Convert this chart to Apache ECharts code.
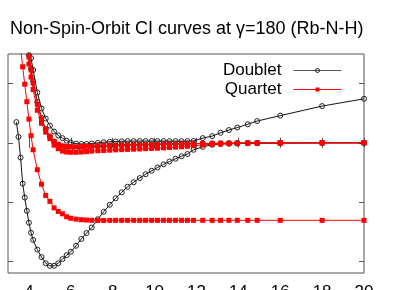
<!DOCTYPE html>
<html>
<head>
<meta charset="utf-8">
<script src="https://cdn.jsdelivr.net/npm/echarts@6/dist/echarts.min.js"></script>
<style>
html,body{margin:0;padding:0;background:#fff;}
#chart{width:395px;height:290px;}
</style>
</head>
<body>
<div id="chart"></div>
<script>
// Common R grid (x)
const xGrid = [3.4,3.5,3.6,3.7,3.8,3.9,4.0,4.1,4.2,4.4,4.6,4.8,5.0,5.2,5.4,5.6,5.8,6.0,6.25,6.5,6.75,7.0,
  7.29,7.57,7.86,8.14,8.43,8.71,9.0,9.29,9.57,9.86,10.14,10.43,10.71,11.0,11.29,11.57,11.86,
  12.3,12.75,13.15,13.55,13.95,14.45,14.9,16,18,20];

// Doublet curves
const doublet1 = [350,100,-250,-690,-925,-1150,-1350,-1520,-1640,-1805,-1930,-2035,-2080,-2078,-2035,-1965,-1900,-1841,-1740,-1625,-1525,-1431,
  -1292,-1166,-1047,-937,-836,-743,-667,-596,-532,-473,-417,-365,-316,-270,-228,-189,-118,
  -68,-34,-22,-17,-12,-8,-5,-3,0,0];
const doublet2 = [null,null,null,null,null,null,1650,1430,1230,850,580,410,290,190,125,78,35,5,-15,-20,-20,-12,
  -2,10,17,22,25,27,28,29,29,29,29,29,28,28,27,28,30,
  79,113,169,215,258,313,367,459,620,743];
const doublet3 = [null,null,null,null,null,1700,1480,1250,1040,690,420,230,105,20,-35,-68,-84,-92,-93,-86,-77,-68,
  -59,-52,-46,-42,-39,-36,-34,-31,-29,-27,-25,-23,-21,-19,-17,-15,-14,
  -12,-10,-8,-7,-6,-5,-4,-3,-1,0];

// Quartet curves
const quartetLow = [null,null,1600,1284,989,694,400,120,-118,-455,-700,-890,-990,-1100,-1160,-1200,-1250,-1275,-1290,-1300,-1305,-1310,
  -1312,-1312,-1311,-1310,-1310,-1310,-1310,-1310,-1310,-1310,-1310,-1310,-1310,-1310,-1310,-1310,-1310,
  -1310,-1310,-1310,-1310,-1310,-1310,-1310,-1310,-1310,-1310];
const quartetUp1 = [null,null,null,null,null,1600,1330,1110,900,550,330,180,70,-40,-100,-140,-155,-160,-160,-156,-150,-140,
  -135,-130,-125,-120,-116,-112,-108,-104,-100,-96,-92,-86,-80,-74,-68,-60,-50,
  -35,-25,-18,-12,-8,-5,-3,-1,0,0];
const quartetUp2 = [null,null,null,null,null,1700,1450,1230,1010,650,400,230,110,25,-25,-52,-64,-68,-68,-64,-60,-56,
  -52,-48,-45,-42,-40,-38,-36,-34,-32,-30,-28,-26,-24,-22,-20,-18,-16,
  -13,-11,-9,-7,-5,-4,-3,-2,-1,0];

const xTicks = [4,6,8,10,12,14,16,18,20];
const yTicks = [-2000,-1000,0,1000];

function pairs(arr){
  const out = [];
  for (let i = 0; i < xGrid.length; i++) if (arr[i] !== null) out.push([xGrid[i], arr[i]]);
  return out;
}

const FONT = '"Liberation Sans", Arial, Helvetica, sans-serif';

function doubletSeries(name, arr){
  return {
    name: name, type: 'line', data: pairs(arr), clip: true,
    symbol: 'circle', symbolSize: 5,
    itemStyle: {color: 'rgba(255,255,255,0)', borderColor: '#222', borderWidth: 1},
    lineStyle: {color: '#111', width: 1},
    z: 2
  };
}
function quartetSeries(name, arr){
  return {
    name: name, type: 'line', data: pairs(arr), clip: true,
    symbol: 'rect', symbolSize: 5,
    itemStyle: {color: '#ff0000'},
    lineStyle: {color: '#ff0000', width: 1},
    z: 3
  };
}

const chart = echarts.init(document.getElementById('chart'), null, {renderer: 'canvas'});
chart.setOption({
  animation: false,
  backgroundColor: '#fff',
  title: {
    text: 'Non-Spin-Orbit CI curves at γ=180 (Rb-N-H)',
    left: 5, top: 15,
    textStyle: {fontFamily: FONT, fontSize: 18, fontWeight: 'normal', color: '#000'}
  },
  legend: {
    orient: 'vertical', right: 48, top: 57,
    align: 'right',
    itemWidth: 48, itemHeight: 5, itemGap: 2,
    textStyle: {fontFamily: FONT, fontSize: 17, color: '#000', padding: [0, 7, 0, 0]},
    data: [
      {name: 'Doublet', itemStyle: {borderWidth: 1}, lineStyle: {color: '#555', width: 1}},
      {name: 'Quartet', lineStyle: {color: '#ff0000', width: 1}}
    ]
  },
  grid: {left: 8, right: 31, top: 54, bottom: 17, outerBoundsMode: 'none', containLabel: false,
    show: true, borderColor: '#555', borderWidth: 1, backgroundColor: 'transparent'},
  xAxis: [{
    type: 'value', min: 3, max: 20, interval: 1, position: 'bottom',
    axisLine: {show: false},
    splitLine: {show: false},
    axisTick: {show: true, inside: true, length: 5, lineStyle: {color: '#555'}, customValues: xTicks},
    axisLabel: {show: true, margin: 11, fontFamily: FONT, fontSize: 17, color: '#000', customValues: xTicks}
  }, {
    type: 'value', min: 3, max: 20, interval: 1, position: 'top',
    axisLine: {show: false},
    splitLine: {show: false},
    axisTick: {show: true, inside: true, length: 5, lineStyle: {color: '#555'}, customValues: xTicks},
    axisLabel: {show: false}
  }],
  yAxis: [{
    type: 'value', min: -2200, max: 1500, interval: 100, position: 'left',
    axisLine: {show: false},
    splitLine: {show: false},
    axisTick: {show: true, inside: true, length: 5, lineStyle: {color: '#555'}, customValues: yTicks},
    axisLabel: {show: false}
  }, {
    type: 'value', min: -2200, max: 1500, interval: 100, position: 'right',
    axisLine: {show: false},
    splitLine: {show: false},
    axisTick: {show: true, inside: true, length: 5, lineStyle: {color: '#555'}, customValues: yTicks},
    axisLabel: {show: false}
  }],
  series: [
    doubletSeries('Doublet', doublet1),
    doubletSeries('Doublet', doublet2),
    doubletSeries('Doublet', doublet3),
    quartetSeries('Quartet', quartetLow),
    quartetSeries('Quartet', quartetUp1),
    quartetSeries('Quartet', quartetUp2)
  ]
});
</script>
</body>
</html>
